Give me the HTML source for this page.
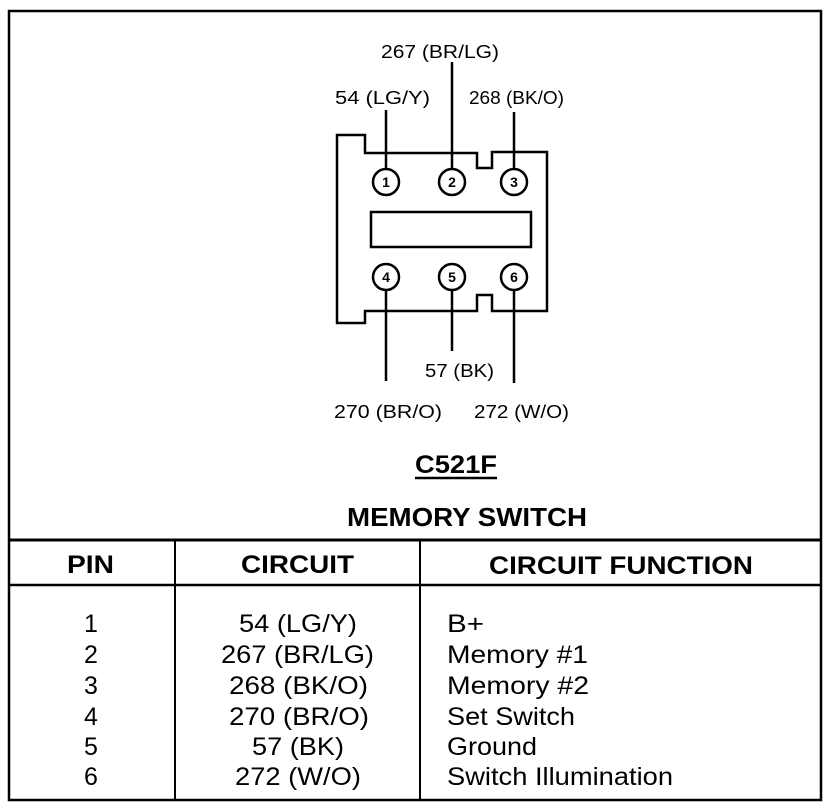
<!DOCTYPE html>
<html><head><style>
body{margin:0;background:#fff}
svg{display:block}
text{font-family:"Liberation Sans",Arial,sans-serif;fill:#000}
</style></head><body>
<svg width="832" height="812" viewBox="0 0 832 812" xmlns="http://www.w3.org/2000/svg">
<g fill="none" stroke="#000">
<rect x="9" y="11" width="812" height="789" stroke-width="2.5"/>
<line x1="9" y1="540" x2="821" y2="540" stroke-width="3"/>
<line x1="9" y1="585" x2="821" y2="585" stroke-width="2.5"/>
<line x1="175" y1="540" x2="175" y2="800" stroke-width="2"/>
<line x1="420" y1="540" x2="420" y2="800" stroke-width="2"/>
<path d="M337 135 H365 V153 H477 V168 H492 V152 H547 V311 H492 V295 H477 V311 H365 V323 H337 Z" stroke-width="2.5"/>
<rect x="371" y="212" width="160" height="35" stroke-width="2.5"/>
<g stroke-width="2.5">
<line x1="386" y1="110" x2="386" y2="169"/>
<line x1="452" y1="62" x2="452" y2="169"/>
<line x1="514" y1="112" x2="514" y2="169"/>
<line x1="386" y1="290" x2="386" y2="381"/>
<line x1="452" y1="290" x2="452" y2="351"/>
<line x1="514" y1="290" x2="514" y2="383"/>
</g>
<g stroke-width="2.5" fill="#fff">
<circle cx="386" cy="182" r="13"/><circle cx="452" cy="182" r="13"/><circle cx="514" cy="182" r="13"/>
<circle cx="386" cy="277" r="13"/><circle cx="452" cy="277" r="13"/><circle cx="514" cy="277" r="13"/>
</g>
</g>
<g font-size="14" font-weight="bold" text-anchor="middle">
<text x="386" y="187">1</text><text x="452" y="187">2</text><text x="514" y="187">3</text>
<text x="386" y="282">4</text><text x="452" y="282">5</text><text x="514" y="282">6</text>
</g>
<g font-size="18">
<text x="381" y="58" textLength="118" lengthAdjust="spacingAndGlyphs">267 (BR/LG)</text>
<text x="335" y="104" textLength="95" lengthAdjust="spacingAndGlyphs">54 (LG/Y)</text>
<text x="469" y="104" textLength="95" lengthAdjust="spacingAndGlyphs">268 (BK/O)</text>
<text x="425" y="377" textLength="69" lengthAdjust="spacingAndGlyphs">57 (BK)</text>
<text x="334" y="418" textLength="108" lengthAdjust="spacingAndGlyphs">270 (BR/O)</text>
<text x="474" y="418" textLength="95" lengthAdjust="spacingAndGlyphs">272 (W/O)</text>
</g>
<text x="415" y="473" font-size="25" font-weight="bold" textLength="82" lengthAdjust="spacingAndGlyphs">C521F</text>
<line x1="415" y1="478" x2="497" y2="478" stroke="#000" stroke-width="2.5"/>
<text x="347" y="526" font-size="26" font-weight="bold" textLength="240" lengthAdjust="spacingAndGlyphs">MEMORY SWITCH</text>
<g font-size="25" font-weight="bold">
<text x="67" y="573" textLength="47" lengthAdjust="spacingAndGlyphs">PIN</text>
<text x="241" y="573" textLength="113" lengthAdjust="spacingAndGlyphs">CIRCUIT</text>
<text x="489" y="574" textLength="264" lengthAdjust="spacingAndGlyphs">CIRCUIT FUNCTION</text>
</g>
<g font-size="25" text-anchor="middle">
<text x="91" y="632">1</text><text x="91" y="663">2</text><text x="91" y="694">3</text>
<text x="91" y="725">4</text><text x="91" y="755">5</text><text x="91" y="785">6</text>
</g>
<g font-size="25">
<text x="239" y="632" textLength="118" lengthAdjust="spacingAndGlyphs">54 (LG/Y)</text>
<text x="221" y="663" textLength="153" lengthAdjust="spacingAndGlyphs">267 (BR/LG)</text>
<text x="229" y="694" textLength="139" lengthAdjust="spacingAndGlyphs">268 (BK/O)</text>
<text x="229" y="725" textLength="140" lengthAdjust="spacingAndGlyphs">270 (BR/O)</text>
<text x="252" y="755" textLength="92" lengthAdjust="spacingAndGlyphs">57 (BK)</text>
<text x="235" y="785" textLength="126" lengthAdjust="spacingAndGlyphs">272 (W/O)</text>
<text x="447" y="632" textLength="37" lengthAdjust="spacingAndGlyphs">B+</text>
<text x="447" y="663" textLength="141" lengthAdjust="spacingAndGlyphs">Memory #1</text>
<text x="447" y="694" textLength="142" lengthAdjust="spacingAndGlyphs">Memory #2</text>
<text x="447" y="725" textLength="128" lengthAdjust="spacingAndGlyphs">Set Switch</text>
<text x="447" y="755" textLength="90" lengthAdjust="spacingAndGlyphs">Ground</text>
<text x="447" y="785" textLength="226" lengthAdjust="spacingAndGlyphs">Switch Illumination</text>
</g>
</svg>
</body></html>
